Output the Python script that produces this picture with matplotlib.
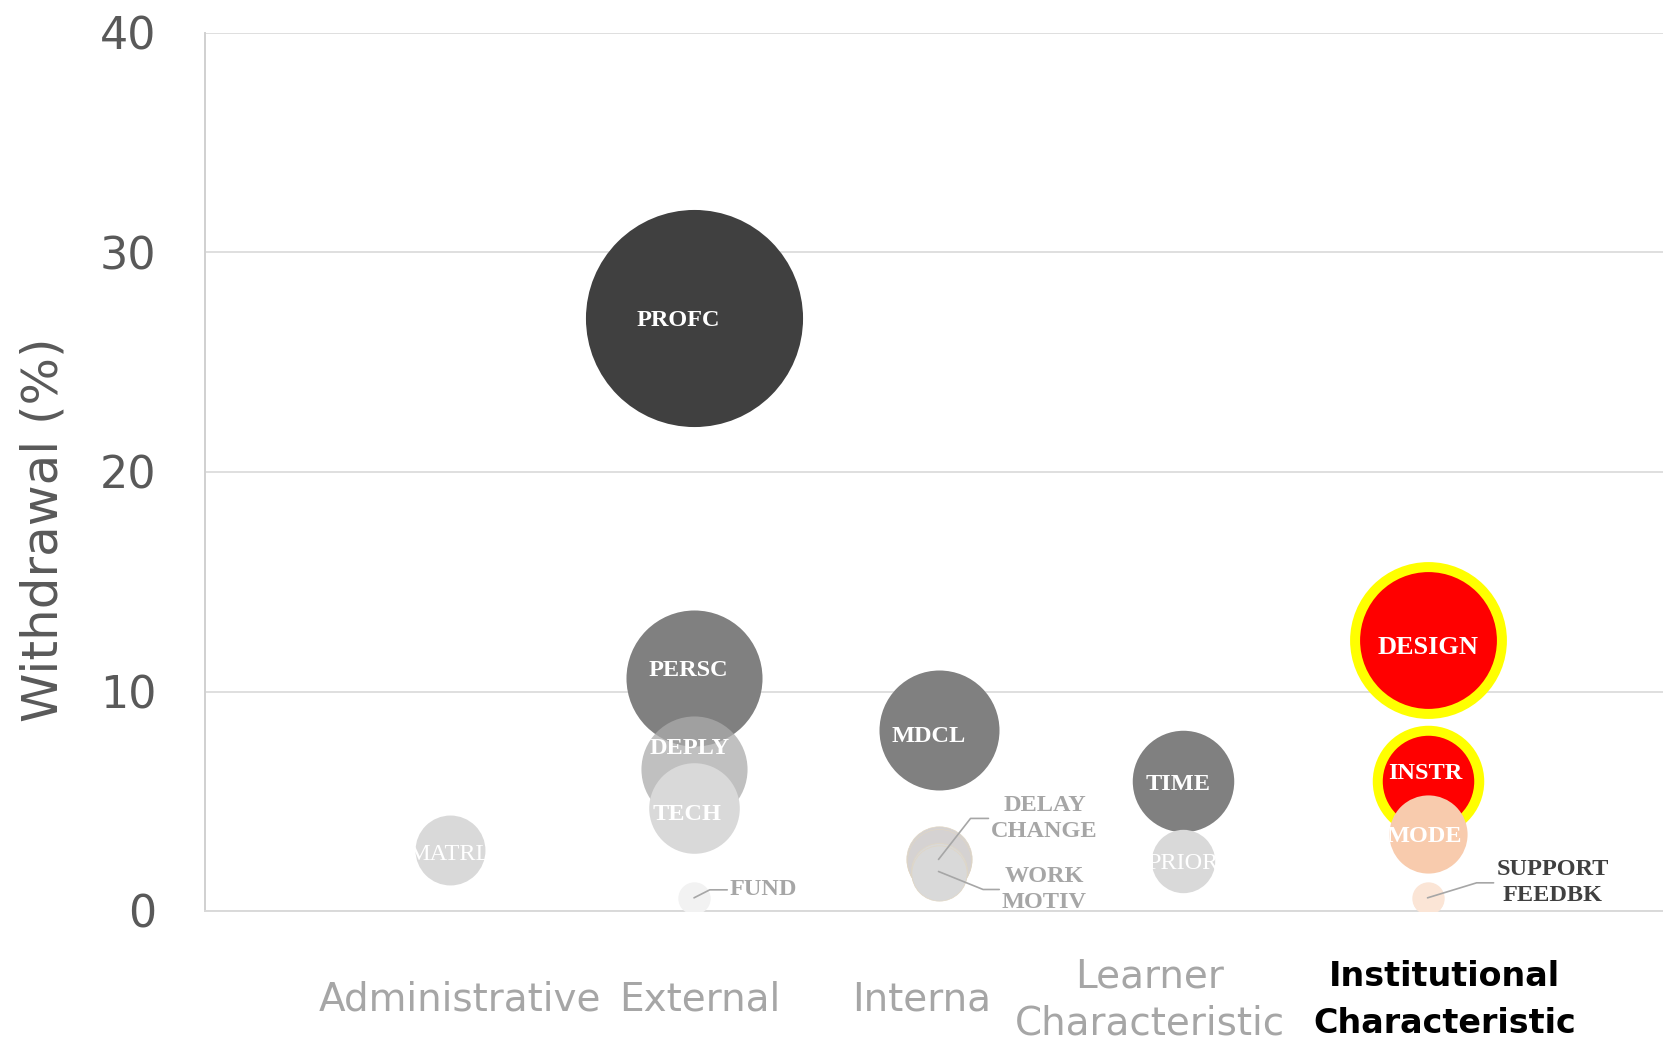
import numpy as np
import matplotlib.pyplot as plt
from matplotlib.transforms import ScaledTranslation

# categories on the x axis
categories = ["Administrative", "External", "Interna",
              "Learner\nCharacteristic", "Institutional\nCharacteristic"]

# bubbles: label, category (1..5), withdrawal (%), bubble size
names = ["MATRL",
         "PROFC", "PERSC", "DEPLY", "TECH", "FUND",
         "MDCL", "DELAY", "CHANGE", "WORK", "MOTIV",
         "TIME", "PRIOR",
         "DESIGN", "INSTR", "MODE", "SUPPORT", "FEEDBK"]
group = [1,
         2, 2, 2, 2, 2,
         3, 3, 3, 3, 3,
         4, 4,
         5, 5, 5, 5, 5]
withdrawal = [2.8,
              27.0, 10.6, 6.45, 4.7, 0.6,
              8.25, 2.35, 2.3, 1.8, 1.75,
              5.9, 2.3,
              12.35, 5.9, 3.5, 0.6, 0.55]
bubble_size = [2.8,
               27.0, 10.6, 6.45, 4.7, 0.6,
               8.25, 2.45, 2.35, 1.8, 1.75,
               5.9, 2.3,
               12.35, 5.9, 3.5, 0.6, 0.55]

# bubble colours
colors = {"MATRL": "#d9d9d9", "PROFC": "#404040", "PERSC": "#808080",
          "DEPLY": "#ababab", "TECH": "#d9d9d9", "FUND": "#f2f2f2",
          "MDCL": "#808080", "DELAY": "#d5d2d2", "CHANGE": "#d5d2d2",
          "WORK": "#d9d9d9", "MOTIV": "#d9d9d9", "TIME": "#808080",
          "PRIOR": "#d9d9d9", "DESIGN": "#ff0000", "INSTR": "#ff0000",
          "MODE": "#f8cbad", "SUPPORT": "#fbe5d6", "FEEDBK": "#fbe5d6"}
highlight = ["DESIGN", "INSTR"]

# labels drawn inside the bubble, offset in pixels (dx, dy up)
inside = {"MATRL": (0, -2), "PROFC": (-16, 0), "PERSC": (-6, 10),
          "DEPLY": (-4, 23), "TECH": (-7, -4), "MDCL": (-10, -4),
          "TIME": (-5, -1), "PRIOR": (0, 0), "DESIGN": (1, -5),
          "INSTR": (-2, 10), "MODE": (-3, 0)}
regular = ["MATRL", "PRIOR"]

# labels with leader lines: anchor bubble, text, colour, offset px, line angle
callouts = [("DELAY", "DELAY\nCHANGE", "#a6a6a6", (106, 41), 52, "center"),
            ("WORK", "WORK\nMOTIV", "#a6a6a6", (106, -18), -22, "center"),
            ("FUND", "FUND", "#a6a6a6", (36, 8), 27, "left"),
            ("SUPPORT", "SUPPORT\nFEEDBK", "#404040", (125, 15), 17, "center")]

# x label nudges in pixels
xlabel_dx = [10, 6, -17, -33, 17]

px = 0.72  # points per pixel at dpi 100

fig = plt.figure(figsize=(16.63, 10.43), dpi=100)
ax = fig.add_axes([205 / 1663, 1 - 911 / 1043, 1 - 205 / 1663, (911 - 33) / 1043])

# bubbles
for i, n in enumerate(names):
    s = 905 * bubble_size[i]
    if n in highlight:
        ax.scatter(group[i], withdrawal[i], s=s, color=colors[n],
                   edgecolor="#ffff00", linewidth=10 * px, zorder=3)
    elif n in ["DELAY", "CHANGE", "WORK", "MOTIV"]:
        ax.scatter(group[i], withdrawal[i], s=s, color=colors[n],
                   edgecolor="#e0d6c4", linewidth=0.5, zorder=3)
    elif n == "DEPLY":
        ax.scatter(group[i], withdrawal[i], s=s, color=colors[n],
                   alpha=0.75, linewidth=0, zorder=3)
    else:
        ax.scatter(group[i], withdrawal[i], s=s, color=colors[n],
                   linewidth=0, zorder=3)

# labels inside bubbles
for i, n in enumerate(names):
    if n in inside:
        dx, dy = inside[n]
        ax.annotate(n, (group[i], withdrawal[i]),
                    xytext=(dx * px, dy * px), textcoords="offset points",
                    ha="center", va="center_baseline", color="white",
                    fontsize=19 if n == "DESIGN" else 17.5,
                    family="Liberation Serif",
                    fontweight="normal" if n in regular else "bold", zorder=5)

# labels with leader lines
for n, txt, c, (dx, dy), ang, ha in callouts:
    i = names.index(n)
    ax.annotate(txt, (group[i], withdrawal[i]),
                xytext=(dx * px, dy * px), textcoords="offset points",
                ha=ha, va="center", multialignment="center", color=c,
                fontsize=17.5, family="Liberation Serif", fontweight="bold",
                linespacing=1.3, zorder=5,
                arrowprops=dict(arrowstyle="-", color="#a6a6a6", lw=1.2,
                                shrinkA=0, shrinkB=0, relpos=(0, 0.5),
                                connectionstyle=f"angle,angleA=0,angleB={ang},rad=0"))

# axes styling
ax.set_xlim(0, 5.963)
ax.set_ylim(0, 40)
ax.set_yticks([0, 10, 20, 30, 40])
ax.set_xticks(range(1, 6))
ax.set_xticklabels(categories)
ax.set_axisbelow(True)
ax.grid(axis="y", color="#d9d9d9", lw=1.2)
ax.grid(axis="x", visible=False)
for side in ["top", "right"]:
    ax.spines[side].set_visible(False)
ax.spines["left"].set_color("#d0d0d0")
ax.spines["left"].set_linewidth(1.4)
ax.spines["bottom"].set_color("#d9d9d9")
ax.spines["bottom"].set_linewidth(1.4)

ax.tick_params(axis="y", length=0, pad=35, labelsize=32, labelcolor="#595959")
ax.tick_params(axis="x", length=0, pad=64, labelsize=28, labelcolor="#a6a6a6")
for j, lab in enumerate(ax.get_xticklabels()):
    lab.set_va("center")
    lab.set_linespacing(1.32)
    lab.set_transform(lab.get_transform() +
                      ScaledTranslation(xlabel_dx[j] / 100, 0, fig.dpi_scale_trans))
    if j == 4:
        lab.set_color("black")
        lab.set_fontweight("bold")
        lab.set_fontsize(24)
        lab.set_linespacing(1.55)

ax.set_ylabel("Withdrawal (%)", fontsize=36, color="#595959")
ax.yaxis.set_label_coords(-0.094, 0.434)

plt.savefig("out.png", dpi=100)
